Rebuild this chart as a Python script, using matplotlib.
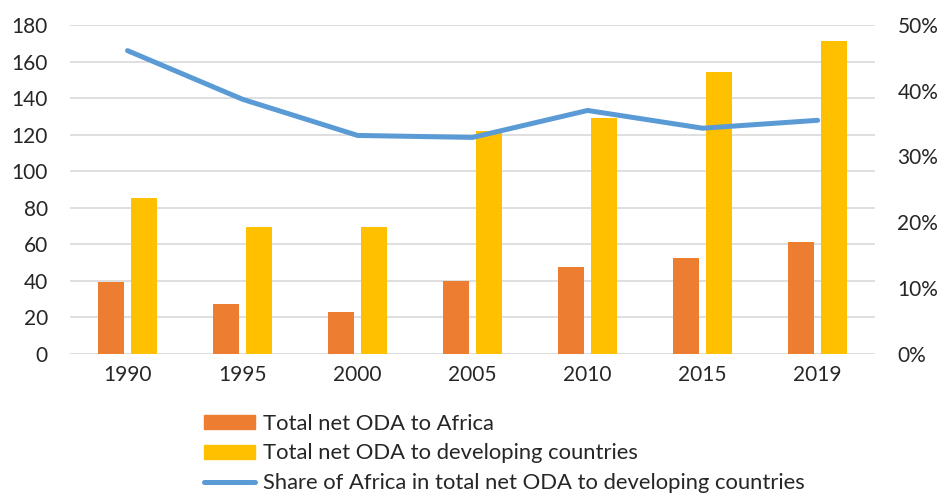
import numpy as np
import matplotlib
matplotlib.use("Agg")
import matplotlib.pyplot as plt
from matplotlib.patches import Patch
from matplotlib.lines import Line2D

years = ["1990", "1995", "2000", "2005", "2010", "2015", "2019"]
odaAfrica = [39.1, 27.0, 23.0, 39.8, 47.5, 52.4, 61.0]
odaDeveloping = [85.4, 69.2, 69.2, 122.0, 129.3, 154.5, 171.3]
shareAfrica = [46.1, 38.7, 33.2, 32.9, 37.0, 34.3, 35.5]

orange = "#ED7D31"
yellow = "#FFC000"
blue = "#5B9BD5"
textColor = "#262626"

plt.rcParams['font.family'] = ['Lato', 'DejaVu Sans']

fig = plt.figure(figsize=(9.41, 4.93), dpi=100)
ax = fig.add_axes([0.0744, 0.2826, 0.8556, 0.6667])
ax2 = ax.twinx()

x = np.arange(len(years))
w = 0.226
ax.bar(x - 0.143, odaAfrica, width=w, color=orange, zorder=2)
ax.bar(x + 0.143, odaDeveloping, width=w, color=yellow, zorder=2)
ax2.plot(x, np.array(shareAfrica) / 100.0, color=blue, lw=3.6, solid_capstyle="round", zorder=3)

ax.set_xlim(-0.5, len(years) - 0.5)
ax.set_ylim(0, 180)
ax.set_yticks(range(0, 181, 20))
ax2.set_ylim(0, 0.5)
ax2.set_yticks(np.arange(0, 0.51, 0.1))
ax2.set_yticklabels(["%d%%" % round(v * 100) for v in np.arange(0, 0.51, 0.1)])

ax.set_xticks(x)
ax.set_xticklabels(years)
ax.grid(axis="y", color="#d9d9d9", lw=1.2, zorder=0)
ax.set_axisbelow(True)

for a in (ax, ax2):
    for s in a.spines.values():
        s.set_visible(False)
    a.tick_params(length=0, labelsize=15, colors=textColor)
ax.tick_params(axis="y", pad=16)
ax.tick_params(axis="x", pad=8)
ax2.tick_params(axis="y", pad=16)

handles = [Patch(color=orange), Patch(color=yellow), Line2D([0], [0], color=blue, lw=3.6, solid_capstyle="round")]
labels = ["Total net ODA to Africa", "Total net ODA to developing countries",
          "Share of Africa in total net ODA to developing countries"]
fig.legend(handles, labels, loc="upper left", bbox_to_anchor=(0.2168, 0.161), frameon=False,
           fontsize=15.8, handlelength=2.33, handleheight=0.6, handletextpad=0.36,
           labelspacing=0.44, borderaxespad=0, borderpad=0, labelcolor=textColor)

fig.savefig("out.png", dpi=100)
